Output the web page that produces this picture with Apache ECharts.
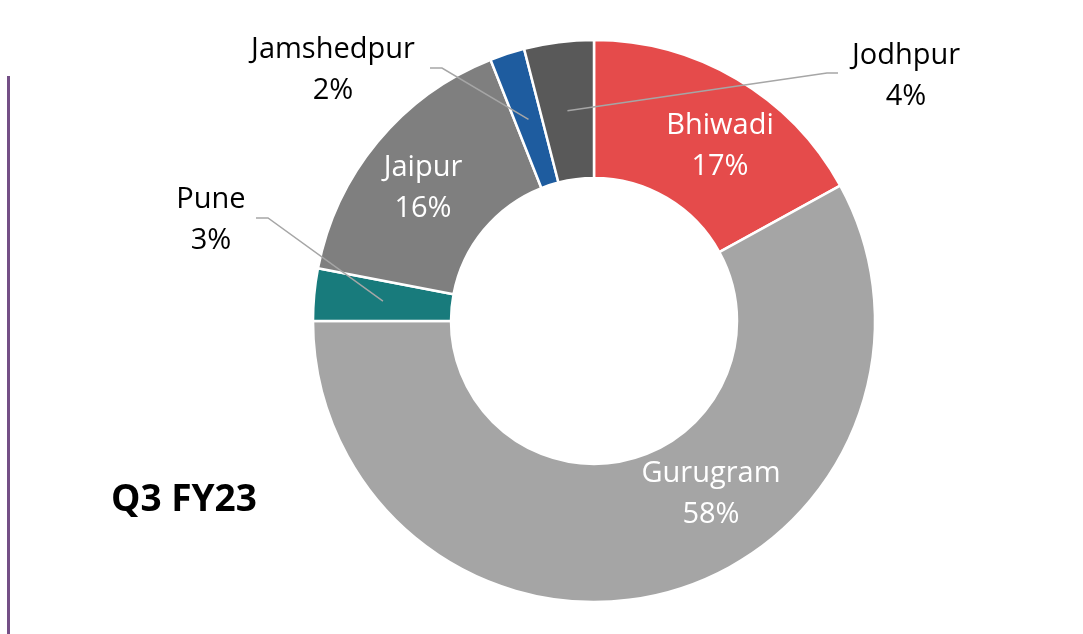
<!DOCTYPE html>
<html>
<head>
<meta charset="utf-8">
<script src="https://cdn.jsdelivr.net/npm/echarts@6/dist/echarts.min.js"></script>
<style>
  html, body { margin: 0; padding: 0; background: #fff; }
  #main { width: 1083px; height: 634px; }
</style>
</head>
<body>
<div id="main"></div>
<script>
// data, clockwise from 12 o'clock
var cities = ['Bhiwadi', 'Gurugram', 'Pune', 'Jaipur', 'Jamshedpur', 'Jodhpur'];
var shares = [17, 58, 3, 16, 2, 4];
var colors = ['#E54B4B', '#A5A5A5', '#187B7C', '#7F7F7F', '#1E5C9F', '#595959'];
var outsideCities = ['Pune', 'Jamshedpur', 'Jodhpur'];

// pie geometry
var cx = 594, cy = 321, r0 = 143, r1 = 281;

// label centres, and leader line end/elbow for the outside ones
var labelPos = {
  Bhiwadi: [720, 146],
  Gurugram: [711, 494],
  Jaipur: [423, 188],
  Pune: [211, 220],
  Jamshedpur: [333, 70],
  Jodhpur: [906, 76]
};
var leader = {
  Pune: [[256, 218], [268, 218]],
  Jamshedpur: [[430, 68], [442, 68]],
  Jodhpur: [[838, 73], [827, 73]]
};

// mid-ring point of a slice (where Excel starts the leader)
function midPoint(idx) {
  var total = shares.reduce(function (a, b) { return a + b; }, 0);
  var before = 0;
  for (var i = 0; i < idx; i++) before += shares[i];
  var ang = (before + shares[idx] / 2) / total * Math.PI * 2;
  var rm = (r0 + r1) / 2;
  return [cx + rm * Math.sin(ang), cy - rm * Math.cos(ang)];
}

function placeLabel(params) {
  var name = cities[params.dataIndex];
  var pos = labelPos[name];
  var out = {
    x: pos[0],
    y: pos[1],
    align: 'center',
    verticalAlign: 'middle',
    hideOverlap: false
  };
  if (leader[name]) {
    out.labelLinePoints = [midPoint(params.dataIndex), leader[name][1], leader[name][0]];
  }
  return out;
}

var chart = echarts.init(document.getElementById('main'));

var labelFont = {
  formatter: '{b}\n{c}%',
  fontFamily: 'Open Sans',
  fontSize: 29,
  lineHeight: 41,
  align: 'center'
};

// visible ring, with the in-slice labels
var ringData = cities.map(function (name, i) {
  var outside = outsideCities.indexOf(name) >= 0;
  return {
    name: name,
    value: shares[i],
    itemStyle: { color: colors[i] },
    label: { show: !outside }
  };
});

// transparent copy on top, only for the outside labels so leaders sit over the slices
var leaderData = cities.map(function (name, i) {
  var outside = outsideCities.indexOf(name) >= 0;
  return {
    name: name,
    value: shares[i],
    label: { show: outside },
    labelLine: { show: outside }
  };
});

chart.setOption({
  animation: false,
  graphic: [
    {
      type: 'line',
      shape: { x1: 8.5, y1: 76, x2: 8.5, y2: 634 },
      style: { stroke: '#744F86', lineWidth: 3 }
    },
    {
      type: 'text',
      left: 111,
      top: 482,
      style: {
        text: 'Q3 FY23',
        font: 'bold 37px "Open Sans"',
        fill: '#000000'
      }
    }
  ],
  series: [
    {
      type: 'pie',
      z: 2,
      center: [cx, cy],
      radius: [r0, r1],
      startAngle: 90,
      clockwise: true,
      avoidLabelOverlap: false,
      itemStyle: { borderColor: '#ffffff', borderWidth: 2.5 },
      label: Object.assign({ position: 'inside', color: '#ffffff' }, labelFont),
      labelLine: { show: false },
      labelLayout: placeLabel,
      data: ringData
    },
    {
      type: 'pie',
      z: 3,
      silent: true,
      center: [cx, cy],
      radius: [r0, r1],
      startAngle: 90,
      clockwise: true,
      avoidLabelOverlap: false,
      itemStyle: { color: 'rgba(0,0,0,0)', borderWidth: 0 },
      label: Object.assign({ position: 'outside', color: '#000000' }, labelFont),
      labelLine: {
        show: true,
        lineStyle: { color: '#A6A6A6', width: 1.5 }
      },
      labelLayout: placeLabel,
      data: leaderData
    }
  ]
});
</script>
</body>
</html>
